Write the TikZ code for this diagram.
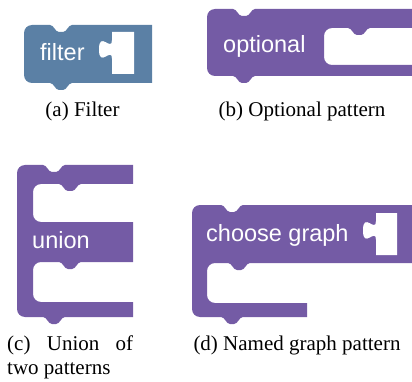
\documentclass[tikz,border=0pt]{standalone}
\usepackage{fontspec}
\setmainfont{Liberation Serif}
\newfontfamily\blockfont{Liberation Sans}
\usetikzlibrary{calc}

\definecolor{filterblue}{HTML}{5B80A5}
\definecolor{patternpurple}{HTML}{745BA5}

% rounded corner from the current point, via corner #2, to #3
\newcommand{\rc}[3]{.. controls ($#1!0.552!#2$) and ($#3!0.552!#2$) .. #3}
% notch going right (left end at #1,#2)
\newcommand{\notch}[2]{-- (#1,#2) .. controls ({#1+4},#2) and ({#1+5},{#2+7}) .. ({#1+9},{#2+7}) -- ({#1+13},{#2+7}) .. controls ({#1+17},{#2+7}) and ({#1+18},#2) .. ({#1+22},#2)}
% same notch, going left
\newcommand{\notchback}[2]{-- ({#1+22},#2) .. controls ({#1+18},#2) and ({#1+17},{#2+7}) .. ({#1+13},{#2+7}) -- ({#1+9},{#2+7}) .. controls ({#1+5},{#2+7}) and ({#1+4},#2) .. (#1,#2)}
% value socket with puzzle tab
\newcommand{\socket}[4]{\fill[white] (#1,#2) -- (#1,{#2+8}) .. controls (#1,{#2+20.5}) and ({#1-13},{#2-2}) .. ({#1-13},{#2+17.4}) .. controls ({#1-13},{#2+36.75}) and (#1,{#2+14.25}) .. (#1,{#2+26.75}) -- (#1,#4) -- (#3,#4) -- (#3,#2) -- cycle;}

\begin{document}
\begin{tikzpicture}[
  x=1pt, y=-1pt,
  blocktext/.style={text=white, inner sep=0pt, anchor=base west, font=\blockfont\fontsize{23.5}{28}\selectfont},
  caption/.style={inner sep=0pt, anchor=base, font=\fontsize{21}{24}\selectfont},
]
\useasboundingbox (0,0) rectangle (412,382);

% === (a) Filter ===
\fill[filterblue] (24,33) \rc{(24,33)}{(24,25)}{(32,25)} \notch{50}{25} -- (152,25) -- (152,83)
  \notchback{50}{83} -- (32,83) \rc{(32,83)}{(24,83)}{(24,75)} -- cycle;
\socket{112}{32}{134}{74}
\node[blocktext] (filtertxt) at (40,61) {filter};
\node[caption] (capa) at (82.5,117) {(a) Filter};

% === (b) Optional pattern ===
\fill[patternpurple] (207,17) \rc{(207,17)}{(207,9)}{(215,9)} \notch{233}{9} -- (412,9) -- (412,28)
  \notchback{348}{28} -- (332,28) \rc{(332,28)}{(324,28)}{(324,36)} -- (324,57) \rc{(324,57)}{(324,65)}{(332,65)}
  -- (412,65) -- (412,76) \notchback{233}{76} -- (215,76) \rc{(215,76)}{(207,76)}{(207,68)} -- cycle;
\node[blocktext] (optionaltxt) at (223,53) {optional};
\node[caption] (capb) at (302,117) {(b) Optional pattern};

% === (c) Union of two patterns ===
\fill[patternpurple] (17,173) \rc{(17,173)}{(17,165)}{(25,165)} \notch{43}{165} -- (133,165) -- (133,184)
  \notchback{59}{184} -- (41,184) \rc{(41,184)}{(33,184)}{(33,192)} -- (33,214) \rc{(33,214)}{(33,222)}{(41,222)}
  -- (133,222) -- (133,262)
  \notchback{59}{262} -- (41,262) \rc{(41,262)}{(33,262)}{(33,270)} -- (33,294) \rc{(33,294)}{(33,302)}{(41,302)}
  -- (133,302) -- (133,317) \notchback{43}{317} -- (25,317) \rc{(25,317)}{(17,317)}{(17,309)} -- cycle;
\node[blocktext] (uniontxt) at (32,248) {union};
\node[caption, anchor=base west, align=left] (capc) at (7,374) {\makebox[126pt][s]{(c) Union of}\\two patterns};

% === (d) Named graph pattern ===
\fill[patternpurple] (192,213) \rc{(192,213)}{(192,205)}{(200,205)} \notch{221}{205} -- (412,205) -- (412,263)
  \notchback{228}{263} -- (215,263) \rc{(215,263)}{(207,263)}{(207,271)} -- (207,295) \rc{(207,295)}{(207,303)}{(215,303)}
  -- (307,303) -- (307,317) \notchback{221}{317} -- (200,317) \rc{(200,317)}{(192,317)}{(192,309)} -- cycle;
\socket{376}{213}{397}{255}
\node[blocktext] (choosetxt) at (206,241) {choose graph};
\node[caption] (capd) at (297,350) {(d) Named graph pattern};

\end{tikzpicture}
\end{document}
